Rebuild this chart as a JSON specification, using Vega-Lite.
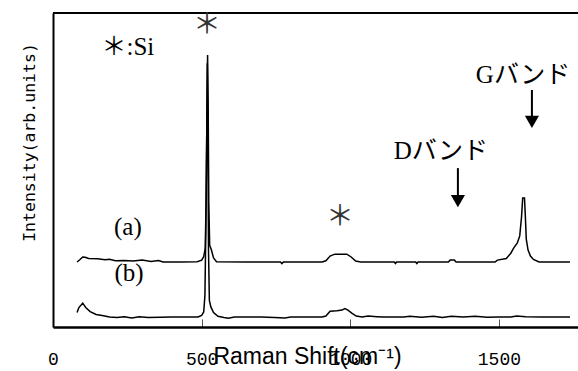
{
  "$schema": "https://vega.github.io/schema/vega-lite/v6.json",
  "width": 525,
  "height": 314,
  "autosize": "none",
  "padding": {"left": 53, "top": 13, "right": 0, "bottom": 44},
  "background": "white",
  "config": {"view": {"stroke": null}},
  "resolve": {"axis": {"x": "independent", "y": "independent"}},
  "datasets": {
    "spectra": [
      {"s": "a", "x": 81, "y": 20.7}, {"s": "a", "x": 90, "y": 21.4}, {"s": "a", "x": 100, "y": 22.3}, {"s": "a", "x": 108, "y": 22.2},
      {"s": "a", "x": 120, "y": 21.8}, {"s": "a", "x": 150, "y": 21.7}, {"s": "a", "x": 175, "y": 21.4}, {"s": "a", "x": 190, "y": 21.6},
      {"s": "a", "x": 210, "y": 21.1}, {"s": "a", "x": 240, "y": 21.2}, {"s": "a", "x": 270, "y": 21.0}, {"s": "a", "x": 300, "y": 21.3},
      {"s": "a", "x": 330, "y": 20.9}, {"s": "a", "x": 355, "y": 21.2}, {"s": "a", "x": 370, "y": 20.7}, {"s": "a", "x": 430, "y": 20.7},
      {"s": "a", "x": 485, "y": 20.8}, {"s": "a", "x": 500, "y": 21.3}, {"s": "a", "x": 507, "y": 22.4}, {"s": "a", "x": 512, "y": 25},
      {"s": "a", "x": 515, "y": 40}, {"s": "a", "x": 518, "y": 70}, {"s": "a", "x": 520, "y": 86.6}, {"s": "a", "x": 522, "y": 70},
      {"s": "a", "x": 524, "y": 40}, {"s": "a", "x": 527, "y": 26}, {"s": "a", "x": 533, "y": 24.5}, {"s": "a", "x": 540, "y": 22},
      {"s": "a", "x": 550, "y": 20.8}, {"s": "a", "x": 650, "y": 20.7}, {"s": "a", "x": 765, "y": 20.7}, {"s": "a", "x": 770, "y": 20.2},
      {"s": "a", "x": 775, "y": 20.7}, {"s": "a", "x": 905, "y": 20.7}, {"s": "a", "x": 918, "y": 21.1}, {"s": "a", "x": 932, "y": 22.6},
      {"s": "a", "x": 948, "y": 23.2}, {"s": "a", "x": 988, "y": 23.2}, {"s": "a", "x": 1003, "y": 22.3}, {"s": "a", "x": 1018, "y": 21.0},
      {"s": "a", "x": 1035, "y": 20.7}, {"s": "a", "x": 1148, "y": 20.7}, {"s": "a", "x": 1152, "y": 20.2}, {"s": "a", "x": 1156, "y": 20.7},
      {"s": "a", "x": 1220, "y": 20.7}, {"s": "a", "x": 1224, "y": 20.2}, {"s": "a", "x": 1228, "y": 20.7}, {"s": "a", "x": 1330, "y": 20.7},
      {"s": "a", "x": 1336, "y": 21.3}, {"s": "a", "x": 1350, "y": 21.3}, {"s": "a", "x": 1356, "y": 20.7}, {"s": "a", "x": 1487, "y": 20.7},
      {"s": "a", "x": 1495, "y": 21.3}, {"s": "a", "x": 1525, "y": 21.8}, {"s": "a", "x": 1540, "y": 23.5}, {"s": "a", "x": 1550, "y": 25.2},
      {"s": "a", "x": 1562, "y": 26.8}, {"s": "a", "x": 1570, "y": 29}, {"s": "a", "x": 1576, "y": 35}, {"s": "a", "x": 1580, "y": 41.1},
      {"s": "a", "x": 1586, "y": 41.1}, {"s": "a", "x": 1589, "y": 35}, {"s": "a", "x": 1592, "y": 28}, {"s": "a", "x": 1598, "y": 24.5},
      {"s": "a", "x": 1606, "y": 22.6}, {"s": "a", "x": 1616, "y": 21.5}, {"s": "a", "x": 1635, "y": 20.7}, {"s": "a", "x": 1739, "y": 20.7},
      {"s": "b", "x": 81, "y": 4.6}, {"s": "b", "x": 87, "y": 6.2}, {"s": "b", "x": 100, "y": 7.6}, {"s": "b", "x": 110, "y": 6.2},
      {"s": "b", "x": 125, "y": 4.9}, {"s": "b", "x": 145, "y": 4.0}, {"s": "b", "x": 170, "y": 3.6}, {"s": "b", "x": 190, "y": 3.2},
      {"s": "b", "x": 215, "y": 3.0}, {"s": "b", "x": 240, "y": 3.3}, {"s": "b", "x": 265, "y": 2.9}, {"s": "b", "x": 290, "y": 3.3},
      {"s": "b", "x": 320, "y": 3.0}, {"s": "b", "x": 400, "y": 3.2}, {"s": "b", "x": 488, "y": 3.2}, {"s": "b", "x": 500, "y": 3.7},
      {"s": "b", "x": 507, "y": 4.8}, {"s": "b", "x": 511, "y": 10}, {"s": "b", "x": 514, "y": 30}, {"s": "b", "x": 517, "y": 60},
      {"s": "b", "x": 519, "y": 84}, {"s": "b", "x": 521, "y": 60}, {"s": "b", "x": 523, "y": 25}, {"s": "b", "x": 526, "y": 8.5},
      {"s": "b", "x": 531, "y": 6.4}, {"s": "b", "x": 540, "y": 4.6}, {"s": "b", "x": 555, "y": 3.4}, {"s": "b", "x": 575, "y": 3.0},
      {"s": "b", "x": 590, "y": 2.8}, {"s": "b", "x": 610, "y": 3.2}, {"s": "b", "x": 700, "y": 3.2}, {"s": "b", "x": 745, "y": 3.0},
      {"s": "b", "x": 780, "y": 2.9}, {"s": "b", "x": 800, "y": 3.2}, {"s": "b", "x": 905, "y": 3.2}, {"s": "b", "x": 918, "y": 3.5},
      {"s": "b", "x": 932, "y": 5.0}, {"s": "b", "x": 955, "y": 5.2}, {"s": "b", "x": 972, "y": 5.4}, {"s": "b", "x": 982, "y": 5.9},
      {"s": "b", "x": 992, "y": 5.4}, {"s": "b", "x": 1005, "y": 4.4}, {"s": "b", "x": 1020, "y": 3.5}, {"s": "b", "x": 1040, "y": 3.2},
      {"s": "b", "x": 1060, "y": 3.5}, {"s": "b", "x": 1090, "y": 3.3}, {"s": "b", "x": 1110, "y": 3.2}, {"s": "b", "x": 1180, "y": 3.2},
      {"s": "b", "x": 1200, "y": 3.4}, {"s": "b", "x": 1240, "y": 3.1}, {"s": "b", "x": 1280, "y": 3.4}, {"s": "b", "x": 1310, "y": 3.0},
      {"s": "b", "x": 1340, "y": 3.4}, {"s": "b", "x": 1380, "y": 3.2}, {"s": "b", "x": 1420, "y": 3.4}, {"s": "b", "x": 1460, "y": 3.1},
      {"s": "b", "x": 1500, "y": 3.2}, {"s": "b", "x": 1540, "y": 3.2}, {"s": "b", "x": 1560, "y": 3.5}, {"s": "b", "x": 1590, "y": 3.3},
      {"s": "b", "x": 1640, "y": 3.2}, {"s": "b", "x": 1739, "y": 3.2}
    ],
    "notes": [
      {"kind": "serif", "x": 252, "y": 89.2, "label": "＊:Si"},
      {"kind": "serif", "x": 252, "y": 31.8, "label": "(a)"},
      {"kind": "serif", "x": 256, "y": 17.2, "label": "(b)"},
      {"kind": "band", "x": 1581, "y": 80.3, "label": "Gバンド"},
      {"kind": "band", "x": 1305, "y": 56.0, "label": "Dバンド"},
      {"kind": "star", "x": 518, "y": 96.0, "label": "＊"},
      {"kind": "star", "x": 965, "y": 34.7, "label": "＊"}
    ],
    "arrows": [
      {"band": "G", "x": 1611, "top": 75.5, "bottom": 66.5, "head": 65.3},
      {"band": "D", "x": 1362, "top": 50.6, "bottom": 41.5, "head": 40.1}
    ],
    "frame": [{"top": 100}]
  },
  "layer": [
    {
      "data": {"name": "spectra"},
      "mark": {"type": "line", "color": "black", "strokeWidth": 1.5},
      "encoding": {
        "x": {
          "field": "x", "type": "quantitative",
          "scale": {"domain": [0, 1766], "nice": false, "zero": false},
          "axis": {
            "values": [0, 500, 1000, 1500],
            "format": "d",
            "grid": false,
            "domainColor": "black", "domainWidth": 2.5,
            "tickColor": "#555", "tickWidth": 1, "tickSize": -8,
            "labelFont": "Liberation Mono", "labelFontSize": 18, "labelColor": "black",
            "labelPadding": 31, "labelFlush": false, "labelOverlap": false,
            "title": "Raman Shift(cm⁻¹)",
            "titleFont": "Liberation Sans Narrow, Liberation Sans", "titleFontSize": 23, "titleFontWeight": "normal",
            "titleColor": "black", "titleX": 254, "titleY": 29, "titleBaseline": "middle", "titleAlign": "center"
          }
        },
        "y": {
          "field": "y", "type": "quantitative",
          "scale": {"domain": [0, 100], "nice": false, "zero": false},
          "axis": {
            "grid": false, "ticks": false, "labels": false,
            "domainColor": "black", "domainWidth": 2,
            "title": "Intensity(arb.units)",
            "titleFont": "DejaVu Sans Mono", "titleFontSize": 16.5, "titleFontWeight": "normal",
            "titleColor": "black", "titleX": -23.5, "titleY": 129, "titleBaseline": "middle", "titleAlign": "center"
          }
        },
        "detail": {"field": "s", "type": "nominal"}
      }
    },
    {
      "data": {"name": "frame"},
      "mark": {"type": "rule", "color": "black", "strokeWidth": 2},
      "encoding": {
        "y": {"field": "top", "type": "quantitative", "scale": {"domain": [0, 100], "nice": false, "zero": false}, "axis": null}
      }
    },
    {
      "data": {"name": "arrows"},
      "mark": {"type": "rule", "color": "black", "strokeWidth": 2},
      "encoding": {
        "x": {"field": "x", "type": "quantitative", "scale": {"domain": [0, 1766], "nice": false, "zero": false}, "axis": null},
        "y": {"field": "top", "type": "quantitative", "scale": {"domain": [0, 100], "nice": false, "zero": false}, "axis": null},
        "y2": {"field": "bottom"}
      }
    },
    {
      "data": {"name": "arrows"},
      "mark": {"type": "point", "shape": "triangle-down", "filled": true, "color": "black", "size": 200, "opacity": 1},
      "encoding": {
        "x": {"field": "x", "type": "quantitative", "scale": {"domain": [0, 1766], "nice": false, "zero": false}, "axis": null},
        "y": {"field": "head", "type": "quantitative", "scale": {"domain": [0, 100], "nice": false, "zero": false}, "axis": null}
      }
    },
    {
      "data": {"name": "notes"},
      "transform": [{"filter": "datum.kind === 'serif'"}],
      "mark": {"type": "text", "font": "Liberation Serif, Noto Sans CJK JP", "fontSize": 25, "color": "black", "align": "center", "baseline": "middle"},
      "encoding": {
        "x": {"field": "x", "type": "quantitative", "scale": {"domain": [0, 1766], "nice": false, "zero": false}, "axis": null},
        "y": {"field": "y", "type": "quantitative", "scale": {"domain": [0, 100], "nice": false, "zero": false}, "axis": null},
        "text": {"field": "label"}
      }
    },
    {
      "data": {"name": "notes"},
      "transform": [{"filter": "datum.kind === 'band'"}],
      "mark": {"type": "text", "font": "Liberation Serif, Noto Sans CJK JP", "fontSize": 25, "color": "black", "align": "center", "baseline": "middle"},
      "encoding": {
        "x": {"field": "x", "type": "quantitative", "scale": {"domain": [0, 1766], "nice": false, "zero": false}, "axis": null},
        "y": {"field": "y", "type": "quantitative", "scale": {"domain": [0, 100], "nice": false, "zero": false}, "axis": null},
        "text": {"field": "label"}
      }
    },
    {
      "data": {"name": "notes"},
      "transform": [{"filter": "datum.kind === 'star'"}],
      "mark": {"type": "text", "font": "Noto Sans CJK JP", "fontSize": 28, "color": "#333", "align": "center", "baseline": "middle"},
      "encoding": {
        "x": {"field": "x", "type": "quantitative", "scale": {"domain": [0, 1766], "nice": false, "zero": false}, "axis": null},
        "y": {"field": "y", "type": "quantitative", "scale": {"domain": [0, 100], "nice": false, "zero": false}, "axis": null},
        "text": {"field": "label"}
      }
    }
  ]
}
